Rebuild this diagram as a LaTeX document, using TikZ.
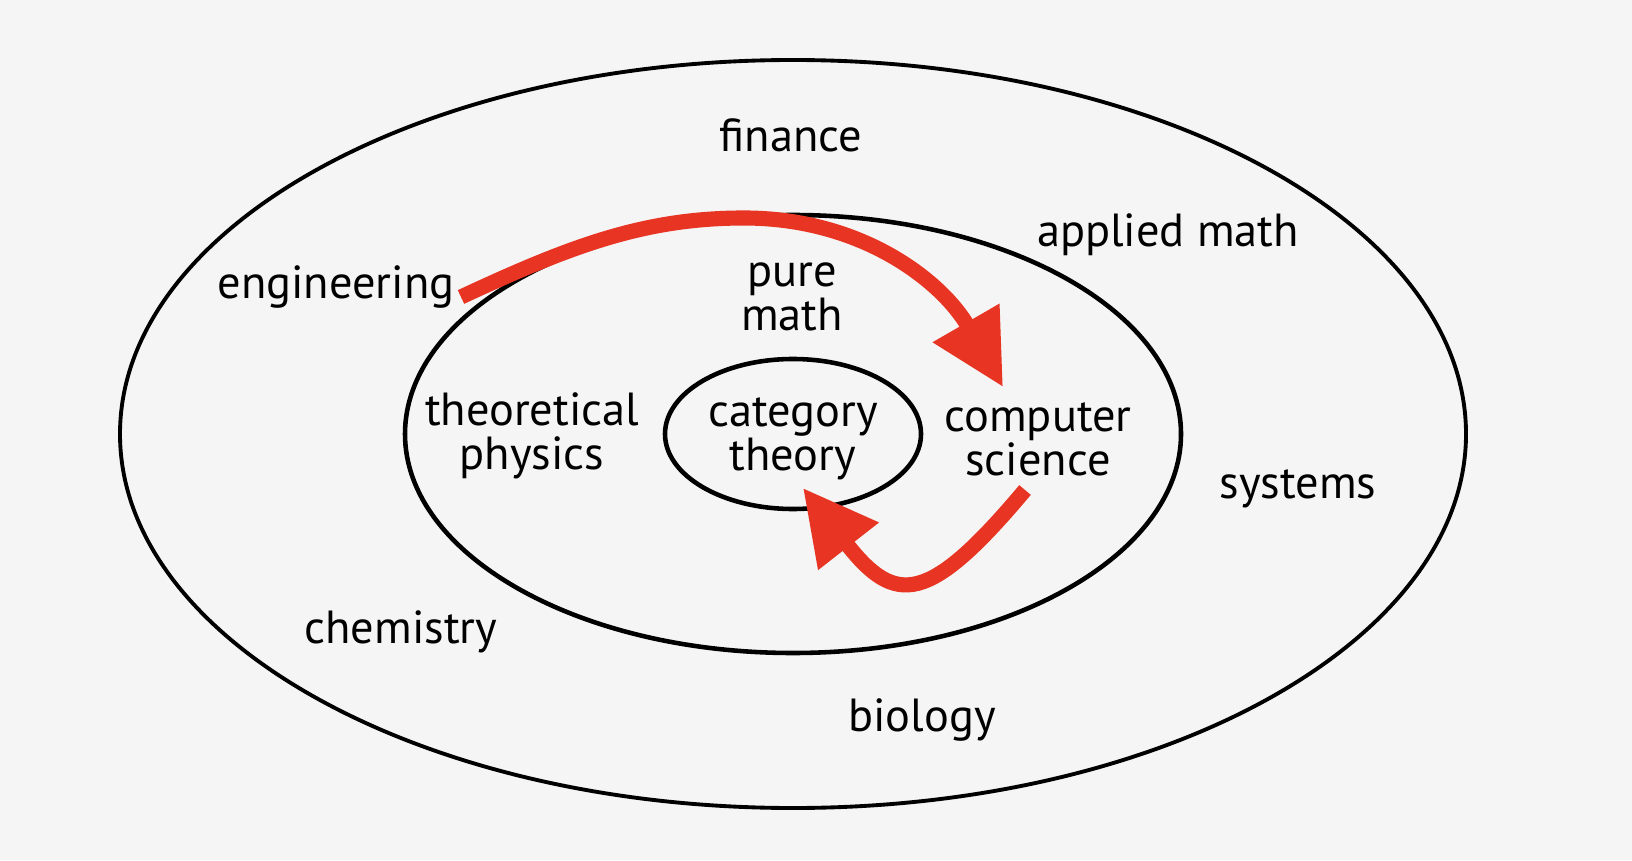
\documentclass[tikz,border=0pt]{standalone}
\usepackage{fontspec}
\setmainfont{PT Sans}
\usepackage{xcolor}
\usepackage{tikz}
\usetikzlibrary{arrows.meta, shapes.geometric, positioning, calc}
\definecolor{paper}{RGB}{245,245,245}
\definecolor{red}{RGB}{232,52,35}
\tikzstyle{field} = [font=\fontsize{13.2}{12.6}\selectfont, align=center, inner sep=1pt]
\tikzstyle{ring} = [draw=black, line width=1.3pt]
\tikzstyle{arrow} = [red, line width=4.3pt, -{Triangle[length=7.4mm,width=7.3mm]}]

\begin{document}
\begin{tikzpicture}
        \fill[paper] (0,0) rectangle (16.32,8.6);
        \useasboundingbox (0,0) rectangle (16.32,8.6);
        % the three rings
        \draw[ring, line width=1.1pt] (7.93,4.26) ellipse (6.73 and 3.74);
        \draw[ring] (7.93,4.26) ellipse (3.88 and 2.19);
        \node[field, ring, ellipse, minimum width=2.56cm, minimum height=1.5cm] (cat) at (7.93,4.26) {};
        \node[field] (catlbl) at (7.93,4.21) {category\\theory};
        % outer ring
        \node[field] (fin) at (7.91,7.25) {finance};
        \node[field] (app) at (11.68,6.25) {applied math};
        \node[field] (eng) at (3.36,5.73) {engineering};
        \node[field] (sys) at (12.98,3.71) {systems};
        \node[field] (chem) at (4.01,2.28) {chemistry};
        \node[field] (bio) at (9.22,1.40) {biology};
        % middle ring
        \node[field] (pure) at (7.92,5.63) {pure\\math};
        \node[field] (phys) at (5.32,4.24) {theoretical\\physics};
        \node[field] (cs) at (10.38,4.21) {computer\\science};
        % arrows
        \draw[arrow] ([shift={(1.25,-0.10)}]eng.center)
            .. controls +(25:1.2) and +(-1.0,0) .. (7.44,6.42)
            .. controls +(1.2,0) and +(120:1.2) .. ([shift={(-0.35,0.52)}]cs.center);
        \draw[arrow] ([shift={(-0.13,-0.51)}]cs.center)
            .. controls +(230:1.5) and +(-52:1.5) .. ([shift={(0.10,-0.54)}]cat.center);
\end{tikzpicture}
\end{document}
